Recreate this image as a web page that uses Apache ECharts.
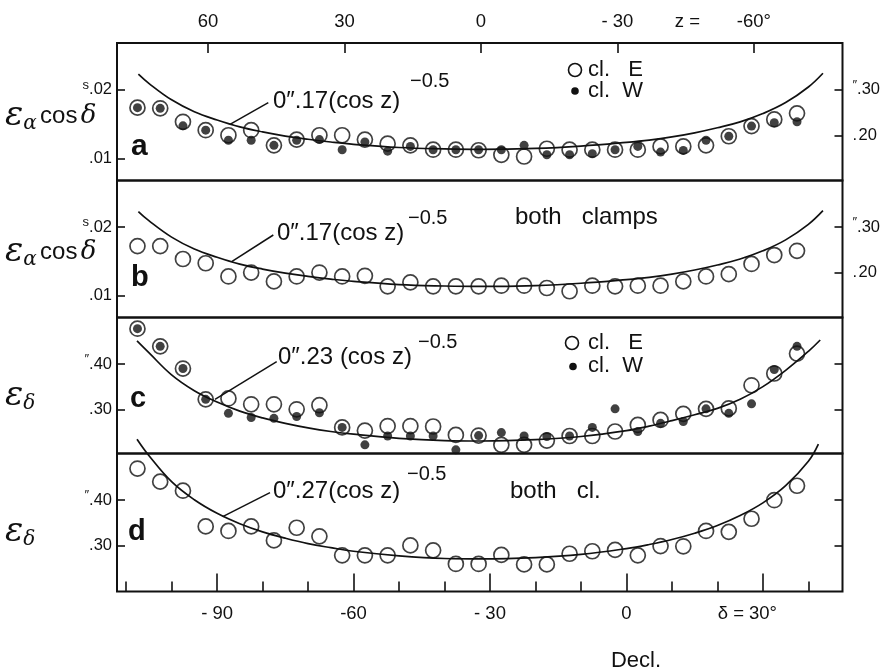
<!DOCTYPE html>
<html>
<head>
<meta charset="utf-8">
<script src="https://cdn.jsdelivr.net/npm/echarts@6/dist/echarts.min.js"></script>
<style>
html, body { margin: 0; padding: 0; background: #fff; }
#chart { width: 891px; height: 672px; }
</style>
</head>
<body>
<div id="chart"></div>
<script>
// declination of the normal points (deg)
var decl = [-107.5, -102.5, -97.5, -92.5, -87.5, -82.5, -77.5, -72.5, -67.5, -62.5,
            -57.5, -52.5, -47.5, -42.5, -37.5, -32.5, -27.5, -22.5, -17.5, -12.5,
            -7.5, -2.5, 2.5, 7.5, 12.5, 17.5, 22.5, 27.5, 32.5, 37.5];

// a: eps_alpha cos delta (s), clamp E / clamp W
var aE = [0.0174, 0.0173, 0.01534, 0.01412, 0.01338, 0.01412, 0.01191, 0.01275, 0.01338, 0.01338,
          0.01275, 0.01216, 0.01191, 0.01128, 0.01128, 0.0112, 0.01054, 0.01029, 0.01142, 0.01128,
          0.01128, 0.01128, 0.01128, 0.01176, 0.01176, 0.01191, 0.01324, 0.01471, 0.01569, 0.01657];
var aW = [0.0174, 0.0173, 0.01475, 0.01412, 0.01265, 0.01265, 0.01191, 0.01265, 0.01275, 0.01128,
          0.0124, 0.01107, 0.01176, 0.01128, 0.01128, 0.01128, 0.01128, 0.01191, 0.01054, 0.01054,
          0.01069, 0.01128, 0.01176, 0.01093, 0.01118, 0.01265, 0.01324, 0.01471, 0.0152, 0.01534];
// b: both clamps (s)
var bBoth = [0.01722, 0.01722, 0.01534, 0.01472, 0.01279, 0.01336, 0.01207, 0.01279, 0.01336, 0.01279,
             0.01289, 0.01135, 0.01193, 0.01135, 0.01135, 0.01135, 0.01144, 0.01144, 0.01111, 0.01063,
             0.01144, 0.01135, 0.01144, 0.01144, 0.01207, 0.01279, 0.01313, 0.01462, 0.01592, 0.01654];
// c: eps_delta ("), clamp E / clamp W
var cE = [0.478, 0.439, 0.390, 0.322, 0.324, 0.311, 0.311, 0.300, 0.309, 0.260,
          0.253, 0.263, 0.263, 0.262, 0.2435, 0.242, 0.2215, 0.2215, 0.231, 0.241,
          0.241, 0.251, 0.2655, 0.2765, 0.290, 0.301, 0.302, 0.353, 0.379, 0.423];
var cW = [0.478, 0.439, 0.390, 0.322, 0.291, 0.282, 0.280, 0.284, 0.2925, 0.260,
          0.2215, 0.241, 0.241, 0.241, 0.2105, 0.242, 0.2486, 0.241, 0.240, 0.241,
          0.260, 0.301, 0.251, 0.269, 0.273, 0.301, 0.291, 0.312, 0.388, 0.439];
// d: both clamps (")
var dBoth = [0.470, 0.441, 0.421, 0.342, 0.332, 0.342, 0.311, 0.339, 0.320, 0.278,
             0.278, 0.278, 0.300, 0.289, 0.259, 0.259, 0.279, 0.258, 0.258, 0.2815,
             0.287, 0.290, 0.278, 0.2985, 0.298, 0.332, 0.330, 0.359, 0.400, 0.432];

// fitted curves as drawn in the figure (")
var curveDeclAB = [-107.3, -105, -100, -95, -90, -85, -80, -75, -70, -65, -60, -50, -40, -32,
                   -20, -10, 0, 5, 10, 15, 20, 25, 30, 35, 40, 43.2];
var curveAB = [0.334, 0.314, 0.278, 0.252, 0.234, 0.219, 0.208, 0.199, 0.192, 0.186, 0.181, 0.174, 0.171, 0.170,
               0.172, 0.177, 0.185, 0.190, 0.197, 0.206, 0.217, 0.230, 0.248, 0.272, 0.306, 0.336];
var curveDeclC = [-107.6, -105, -100, -95, -90, -85, -80, -75, -70, -65, -60, -50, -40, -32,
                  -20, -10, 0, 5, 10, 15, 20, 25, 30, 35, 40, 42.6];
var curveC = [0.451, 0.425, 0.376, 0.341, 0.316, 0.296, 0.281, 0.269, 0.259, 0.251, 0.245, 0.236, 0.231, 0.230,
              0.233, 0.240, 0.253, 0.263, 0.275, 0.288, 0.302, 0.322, 0.350, 0.386, 0.428, 0.453];
var curveDeclD = [-107.6, -105, -100, -95, -90, -85, -80, -75, -70, -65, -60, -50, -40, -32,
                  -20, -10, 0, 5, 10, 15, 20, 25, 30, 35, 40, 42.2];
var curveD = [0.535, 0.499, 0.441, 0.401, 0.371, 0.348, 0.330, 0.316, 0.304, 0.295, 0.287, 0.277, 0.271, 0.270,
              0.273, 0.280, 0.293, 0.302, 0.313, 0.327, 0.344, 0.366, 0.394, 0.432, 0.486, 0.524];

// axis ticks and labels
var declMajor = [-90, -60, -30, 0, 30];
var declMajorLabels = ['- 90', '-60', '- 30', '0', '30°'];
var declMinor = [-110, -100, -80, -70, -50, -40, -20, -10, 10, 20, 40];
var zTicks = [60, 30, 0, -30, -60];
var zLabels = ['60', '30', '0', '- 30', '-60°'];
var secTicks = [0.01, 0.02];
var secLabels = ['.01', '{s|s}.02'];
var arcTicksAB = [0.2, 0.3];
var arcLabelsAB = ['.\u200a20', '{s|\u2033}.30'];
var arcTicksCD = [0.3, 0.4];
var arcLabelsCD = ['.30', '{s|\u2033}.40'];

var INK = '#111';
var FONT = 'Liberation Sans';

function pairs(xs, ys) {
    return xs.map(function (x, i) { return [x, ys[i]]; });
}
function pick(ticks, labels) {
    return function (v) {
        for (var i = 0; i < ticks.length; i++) {
            if (Math.abs(ticks[i] - v) < 1e-6) return labels[i];
        }
        return '';
    };
}

var grids = [
    { top: 43, height: 137.5 },
    { top: 180.5, height: 137 },
    { top: 317.5, height: 136 },
    { top: 453.5, height: 138 }
].map(function (g) {
    return { left: 117, right: 48.5, top: g.top, height: g.height, show: true,
             borderColor: INK, borderWidth: 2, backgroundColor: 'transparent' };
});

function declAxis(gi) {
    return { type: 'value', gridIndex: gi, min: -112, max: 47.5, position: 'bottom',
             axisLine: { show: false, onZero: false }, axisTick: { show: false },
             axisLabel: { show: false }, splitLine: { show: false } };
}

var xAxes = [declAxis(0), declAxis(1), declAxis(2), declAxis(3)];
// bottom scale, major ticks with labels
xAxes[3].axisTick = { show: true, inside: true, length: 18, customValues: declMajor,
                      lineStyle: { color: INK, width: 1.6 } };
xAxes[3].axisLabel = { show: true, customValues: declMajor, formatter: pick(declMajor, declMajorLabels),
                       margin: 13, fontSize: 18.5, color: INK, fontFamily: FONT };
// minor ticks
var minorAxis = declAxis(3);
minorAxis.axisTick = { show: true, inside: true, length: 10, customValues: declMinor,
                       lineStyle: { color: INK, width: 1.6 } };
xAxes.push(minorAxis);
// zenith distance on top
xAxes.push({ type: 'value', gridIndex: 0, min: -79.5, max: 80, inverse: true, position: 'top',
             axisLine: { show: false, onZero: false },
             axisTick: { show: true, inside: true, length: 10, customValues: zTicks,
                         lineStyle: { color: INK, width: 1.6 } },
             axisLabel: { show: true, customValues: zTicks, formatter: pick(zTicks, zLabels),
                          margin: 12, fontSize: 18.5, color: INK, fontFamily: FONT },
             splitLine: { show: false } });

var labelRich = { s: { fontSize: 13, verticalAlign: 'top', lineHeight: 22, color: INK, fontFamily: FONT } };

function yAxis(gi, side, min, max, ticks, labels) {
    return { type: 'value', gridIndex: gi, position: side, min: min, max: max,
             axisLine: { show: false, onZero: false },
             axisTick: { show: true, inside: true, length: 8, customValues: ticks,
                         lineStyle: { color: INK, width: 1.6 } },
             axisLabel: { show: !!labels, customValues: ticks, formatter: labels ? pick(ticks, labels) : '',
                          margin: side === 'left' ? 5 : 10, fontSize: 16.5, color: INK,
                          fontFamily: FONT, rich: labelRich },
             splitLine: { show: false } };
}

var yAxes = [
    yAxis(0, 'left', 0.0068, 0.0268, secTicks, secLabels),
    yAxis(0, 'right', 0.102, 0.402, arcTicksAB, arcLabelsAB),
    yAxis(1, 'left', 0.0068, 0.0268, secTicks, secLabels),
    yAxis(1, 'right', 0.102, 0.402, arcTicksAB, arcLabelsAB),
    yAxis(2, 'left', 0.2024, 0.5027, arcTicksCD, arcLabelsCD),
    yAxis(2, 'right', 0.2024, 0.5027, arcTicksCD, null),
    yAxis(3, 'left', 0.198, 0.5033, arcTicksCD, arcLabelsCD),
    yAxis(3, 'right', 0.198, 0.5033, arcTicksCD, null)
];

function openPts(name, gi, yi, ys) {
    return { name: name, type: 'scatter', xAxisIndex: gi, yAxisIndex: yi, data: pairs(decl, ys),
             symbol: 'circle', symbolSize: 15, z: 3,
             itemStyle: { color: 'rgba(255,255,255,0)', borderColor: INK, borderWidth: 1.7 } };
}
function dotPts(name, gi, yi, ys) {
    return { name: name, type: 'scatter', xAxisIndex: gi, yAxisIndex: yi, data: pairs(decl, ys),
             symbol: 'circle', symbolSize: 9, z: 4, itemStyle: { color: INK } };
}
function curve(gi, yi, xs, ys, clip) {
    return { type: 'line', xAxisIndex: gi, yAxisIndex: yi, data: pairs(xs, ys), smooth: 0.4,
             showSymbol: false, clip: clip, z: 2, lineStyle: { color: INK, width: 1.7 } };
}

var series = [
    curve(0, 1, curveDeclAB, curveAB, true),
    openPts('cl. E', 0, 0, aE),
    dotPts('cl. W', 0, 0, aW),
    curve(1, 3, curveDeclAB, curveAB, true),
    openPts('both clamps', 1, 2, bBoth),
    curve(2, 4, curveDeclC, curveC, true),
    openPts('cl. E', 2, 4, cE),
    dotPts('cl. W', 2, 4, cW),
    curve(3, 6, curveDeclD, curveD, false),
    openPts('both cl.', 3, 6, dBoth)
];

function txt(x, y, s, size, extra, weight) {
    var style = { text: s, x: x, y: y, fill: INK, font: (weight ? weight + ' ' : '') + size + 'px "' + FONT + '"',
                  verticalAlign: 'middle' };
    if (extra) { for (var k in extra) style[k] = extra[k]; }
    return { type: 'text', style: style, z: 10 };
}
function leader(x1, y1, x2, y2) {
    return { type: 'line', shape: { x1: x1, y1: y1, x2: x2, y2: y2 },
             style: { stroke: INK, lineWidth: 1.5 }, z: 10 };
}
function yName(y, withCos) {
    var rich = {
        e: { fontSize: 34, fontStyle: 'italic', fontFamily: 'DejaVu Serif', fill: INK },
        sub: { fontSize: 20, fontStyle: 'italic', fontFamily: 'DejaVu Serif', fill: INK, padding: [16, 0, 0, 0] },
        c: { fontSize: 24, fontFamily: FONT, fill: INK },
        d: { fontSize: 26, fontStyle: 'italic', fontFamily: 'DejaVu Serif', fill: INK }
    };
    var s = withCos ? '{e|\u03b5}{sub|\u03b1} {c|cos} {d|\u03b4}' : '{e|\u03b5}{sub|\u03b4}';
    return { type: 'text', z: 10, style: { text: s, x: 5, y: y, verticalAlign: 'middle', rich: rich } };
}

var graphics = [
    // panel a
    txt(273, 101, '0\u2033.17(cos z)', 24),
    txt(410, 81, '\u22120.5', 20),
    leader(268.3, 102.7, 230, 124.3),
    { type: 'circle', shape: { cx: 575, cy: 70, r: 6.5 }, style: { fill: 'none', stroke: INK, lineWidth: 1.6 }, z: 10 },
    txt(588, 70, 'cl.   E', 22),
    { type: 'circle', shape: { cx: 575, cy: 91, r: 3.8 }, style: { fill: INK }, z: 10 },
    txt(588, 91, 'cl.  W', 22),
    txt(131, 147, 'a', 30, null, 'bold'),
    // panel b
    txt(277, 233, '0\u2033.17(cos z)', 24),
    txt(408, 218, '\u22120.5', 20),
    leader(273.3, 235, 231.7, 261.7),
    txt(515, 217, 'both   clamps', 24),
    txt(131, 278, 'b', 29, null, 'bold'),
    // panel c
    txt(278, 357, '0\u2033.23 (cos z)', 24),
    txt(418, 342, '\u22120.5', 20),
    leader(276.7, 361.7, 215, 399.3),
    { type: 'circle', shape: { cx: 572, cy: 343, r: 6.5 }, style: { fill: 'none', stroke: INK, lineWidth: 1.6 }, z: 10 },
    txt(588, 343, 'cl.   E', 22),
    { type: 'circle', shape: { cx: 573, cy: 366.5, r: 3.8 }, style: { fill: INK }, z: 10 },
    txt(588, 366, 'cl.  W', 22),
    txt(130, 399, 'c', 29, null, 'bold'),
    // panel d
    txt(273, 491, '0\u2033.27(cos z)', 24),
    txt(407, 474, '\u22120.5', 20),
    leader(270, 492.7, 222.7, 516.7),
    txt(510, 491, 'both   cl.', 24),
    txt(128, 532, 'd', 29, null, 'bold'),
    // axis names
    yName(116, true),
    yName(252, true),
    yName(396, false),
    yName(532, false),
    txt(700, 22, 'z =', 18.5, { textAlign: 'right' }),
    txt(744, 614, '\u03b4 =', 18.5, { textAlign: 'right' }),
    txt(636, 661, 'Decl.', 22, { textAlign: 'center' })
];

var chart = echarts.init(document.getElementById('chart'), null, { renderer: 'canvas' });
chart.setOption({
    animation: false,
    backgroundColor: '#fff',
    grid: grids,
    xAxis: xAxes,
    yAxis: yAxes,
    series: series,
    graphic: graphics
});
</script>
</body>
</html>
